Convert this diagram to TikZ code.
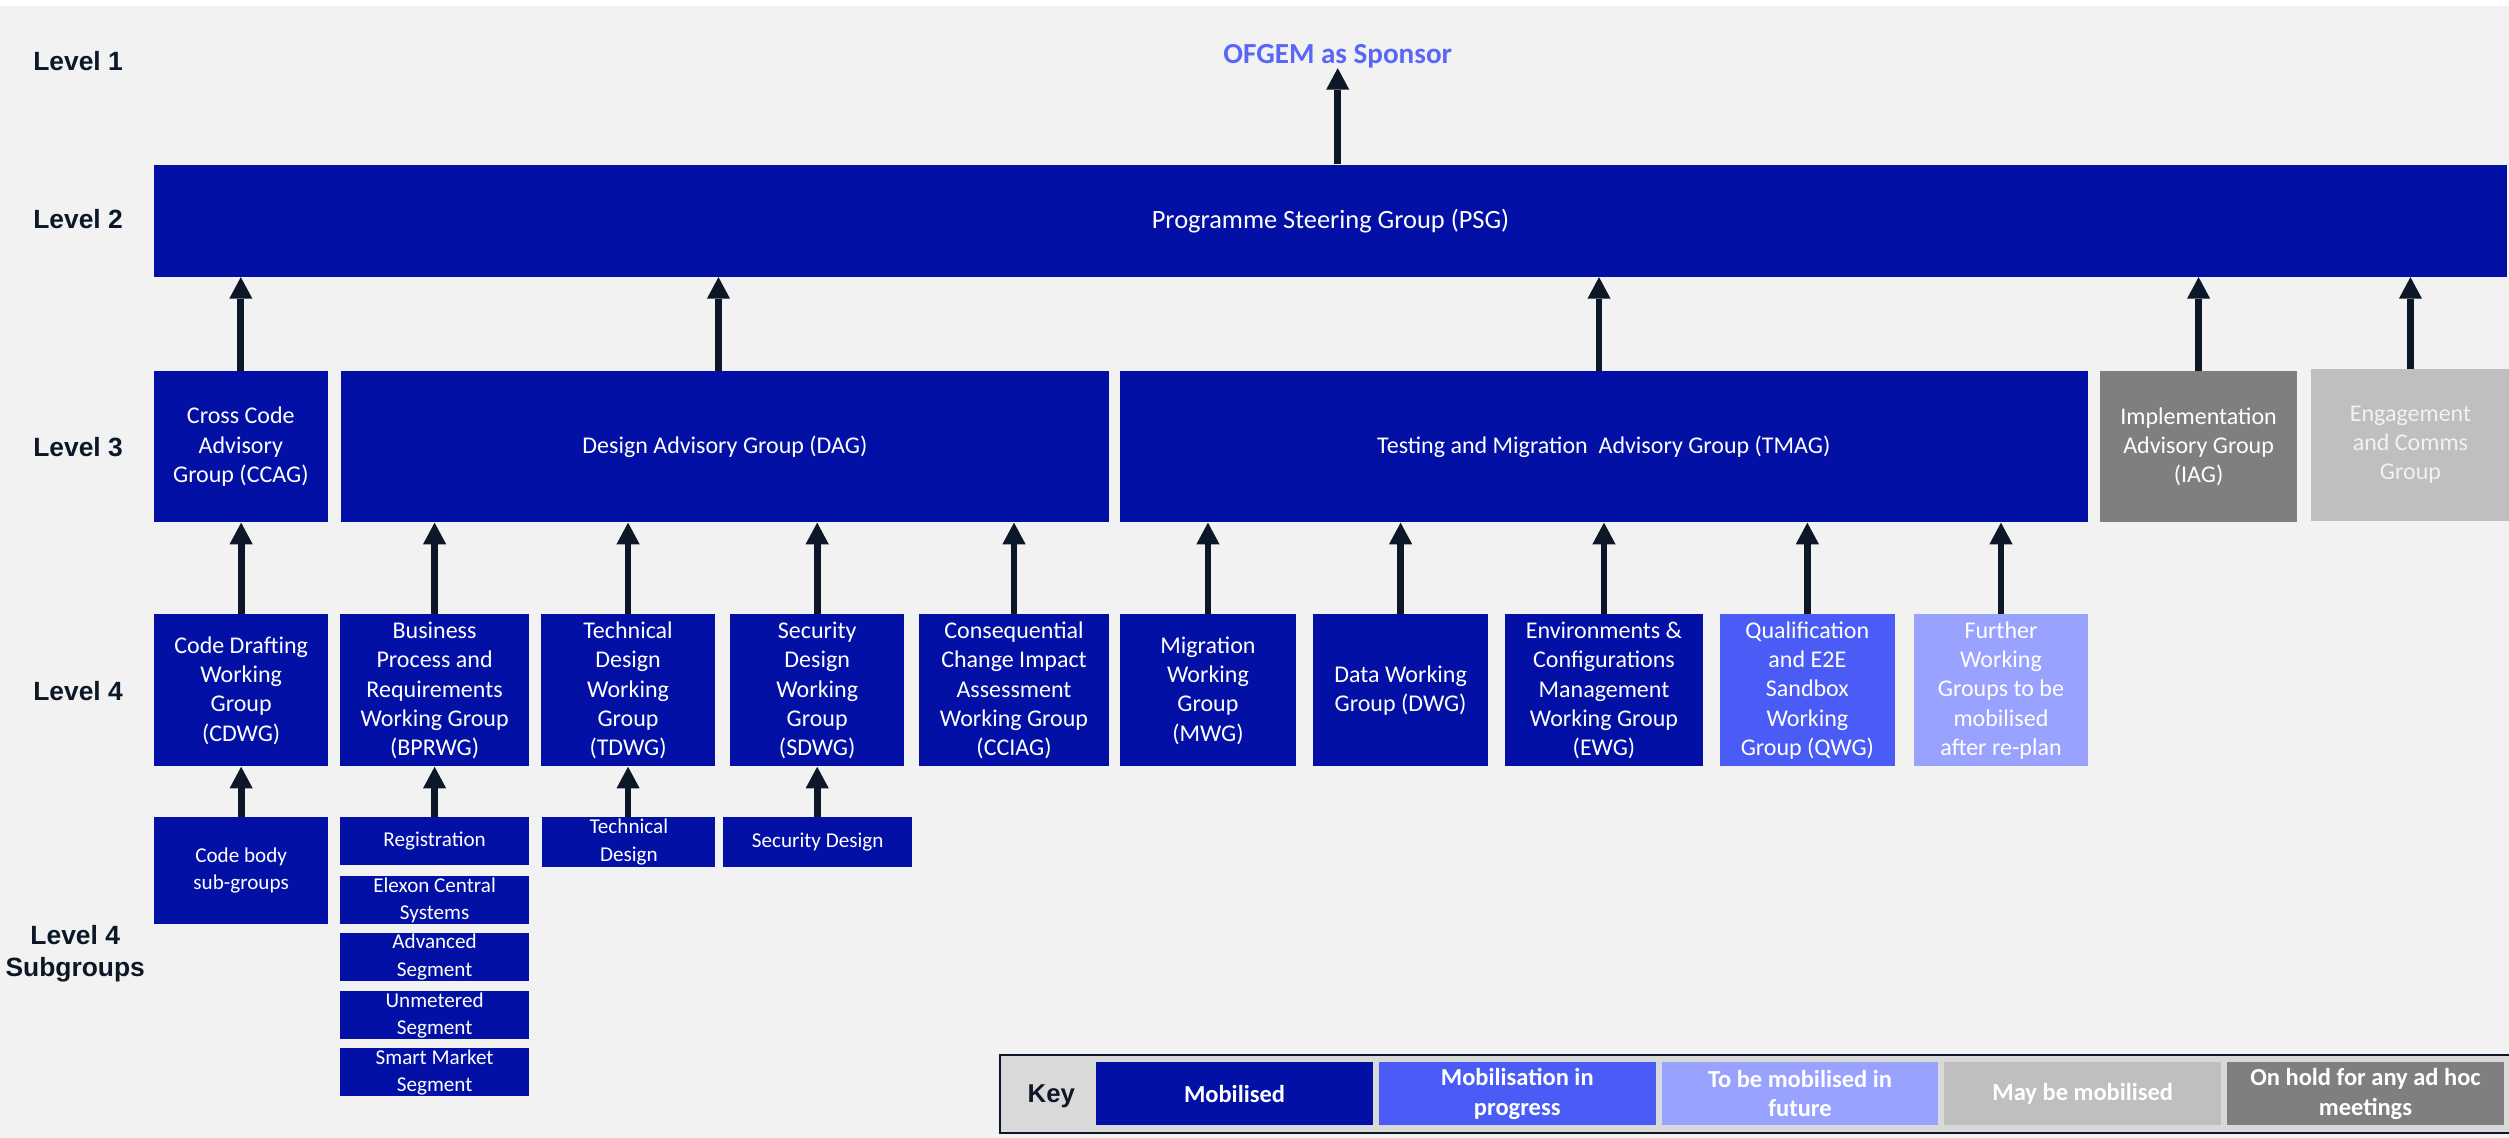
\documentclass[tikz,border=0pt]{standalone}
\usepackage{fontspec}
\setmainfont{Carlito}
\newfontfamily\lvlfont{Liberation Sans}
\usetikzlibrary{arrows.meta}

\definecolor{navy}{HTML}{0210A6}
\definecolor{midblue}{HTML}{4A5CF5}
\definecolor{paleblue}{HTML}{99A3FF}
\definecolor{darkgrey}{HTML}{7F7F7F}
\definecolor{lightgrey}{HTML}{BFBFBF}
\definecolor{ink}{HTML}{0C1828}
\definecolor{bggrey}{HTML}{F2F2F2}
\definecolor{keygrey}{HTML}{D9D9D9}
\definecolor{sponsorblue}{HTML}{5A66F6}

\begin{document}
\begin{tikzpicture}[x=1pt,y=-1pt,
  box/.style={fill=navy,text=white,inner sep=0pt,align=center,font=\fontsize{15}{18.3}\selectfont},
  sub/.style={box,font=\fontsize{13.2}{17}\selectfont},
  lvl/.style={text=ink,inner sep=0pt,align=center,font=\lvlfont\bfseries\fontsize{16.5}{20}\selectfont},
  keycell/.style={box,minimum width=173,minimum height=39,font=\bfseries\fontsize{15.3}{18.5}\selectfont},
  up/.style={draw=ink,line width=4.2pt,-{Triangle[length=13.5pt,width=14.5pt,line width=0pt]}}]
\useasboundingbox (0,0) rectangle (1568,711);
\fill[white] (0,0) rectangle (1568,711);
\fill[bggrey] (0,4) rectangle (1568,711);

% level labels
\node[lvl,anchor=west] (l1) at (20.6,38.4) {Level 1};
\node[lvl,anchor=west] (l2) at (20.6,136.6) {Level 2};
\node[lvl,anchor=west] (l3) at (20.6,279.5) {Level 3};
\node[lvl,anchor=west] (l4) at (20.6,432) {Level 4};
\node[lvl] (l4s) at (47,596) {Level 4\\Subgroups};

% level 1 and 2
\node[font=\bfseries\fontsize{18.2}{22}\selectfont,text=sponsorblue,inner sep=0pt,anchor=base] (ofgem) at (836,39.5) {OFGEM as Sponsor};
\node[box,font=\fontsize{16.5}{20}\selectfont,minimum width=1471,minimum height=70] (psg) at (831.5,138) {Programme Steering Group (PSG)};

% level 3
\node[box,minimum width=109,minimum height=94.5] (ccag) at (150.5,279.2) {Cross Code\\Advisory\\Group (CCAG)};
\node[box,minimum width=480,minimum height=94.5] (dag) at (453,279.2) {Design Advisory Group (DAG)};
\node[box,minimum width=604.6,minimum height=94.5] (tmag) at (1002.3,279.2) {Testing and Migration\ \ Advisory Group (TMAG)};
\node[box,fill=darkgrey,minimum width=123.6,minimum height=94.5] (iag) at (1374,279.2) {Implementation\\Advisory Group\\(IAG)};
\node[box,fill=lightgrey,text=bggrey,minimum width=124,minimum height=94.8] (eng) at (1506.4,278) {Engagement\\and Comms\\Group};

% level 4
\node[box,minimum width=108.5,minimum height=95] (cdwg) at (150.7,431.5) {Code Drafting\\Working\\Group\\(CDWG)};
\node[box,minimum width=118,minimum height=95] (bprwg) at (271.6,431.5) {Business\\Process and\\Requirements\\Working Group\\(BPRWG)};
\node[box,minimum width=109,minimum height=95] (tdwg) at (392.5,431.5) {Technical\\Design\\Working\\Group\\(TDWG)};
\node[box,minimum width=108.6,minimum height=95] (sdwg) at (510.7,431.5) {Security\\Design\\Working\\Group\\(SDWG)};
\node[box,minimum width=118.6,minimum height=95] (cciag) at (633.7,431.5) {Consequential\\Change Impact\\Assessment\\Working Group\\(CCIAG)};
\node[box,minimum width=109.7,minimum height=95] (mwg) at (754.9,431.5) {Migration\\Working\\Group\\(MWG)};
\node[box,minimum width=109.5,minimum height=95] (dwg) at (875.3,431.5) {Data Working\\Group (DWG)};
\node[box,minimum width=123.2,minimum height=95] (ewg) at (1002.4,431.5) {Environments \&\\Configurations\\Management\\Working Group\\(EWG)};
\node[box,fill=midblue,minimum width=109,minimum height=95] (qwg) at (1129.5,431.5) {Qualification\\and E2E\\Sandbox\\Working\\Group (QWG)};
\node[box,fill=paleblue,minimum width=109,minimum height=95] (further) at (1250.5,431.5) {Further\\Working\\Groups to be\\mobilised\\after re-plan};

% level 4 subgroups
\node[sub,minimum width=108.5,minimum height=66.7] (codebody) at (150.7,544) {Code body\\sub-groups};
\node[sub,minimum width=118,minimum height=29.7] (registration) at (271.6,525.5) {Registration};
\node[sub,minimum width=118,minimum height=30] (elexon) at (271.6,562.5) {Elexon Central\\Systems};
\node[sub,minimum width=118,minimum height=30] (advanced) at (271.6,598) {Advanced\\Segment};
\node[sub,minimum width=118,minimum height=30] (unmetered) at (271.6,634.4) {Unmetered\\Segment};
\node[sub,minimum width=118,minimum height=30] (smart) at (271.6,670) {Smart Market\\Segment};
\node[sub,minimum width=108,minimum height=31] (techdesign) at (393,526.2) {Technical\\Design};
\node[sub,minimum width=118,minimum height=31] (secdesign) at (511,526.2) {Security Design};

% arrows
\draw[up] (ofgem.south |- psg.north) -- (ofgem.south);
\coordinate (dagtop) at ([xshift=-4pt]dag.north);
\coordinate (tmagtop) at ([xshift=-3pt]tmag.north);
\foreach \a in {ccag.north, dagtop, tmagtop, iag.north, eng.north}
  \draw[up] (\a) -- (\a |- psg.south);
\foreach \a/\b in {cdwg/ccag, bprwg/dag, tdwg/dag, sdwg/dag, cciag/dag, mwg/tmag, dwg/tmag, ewg/tmag, qwg/tmag, further/tmag}
  \draw[up] (\a.north) -- (\a.north |- \b.south);
\foreach \a/\b in {codebody/cdwg, registration/bprwg, techdesign/tdwg, secdesign/sdwg}
  \draw[up] (\b.south |- \a.north) -- (\b.south);

% key
\node[draw=ink,line width=1.3pt,fill=keygrey,minimum width=955,minimum height=48.6,inner sep=0pt] (keyframe) at (1102.5,683.7) {};
\node[lvl,font=\lvlfont\bfseries\fontsize{16.1}{20}\selectfont] (keylbl) at (657,685) {Key};
\foreach \nm/\col/\txt [count=\i from 0] in {mob/navy/Mobilised, prog/midblue/{Mobilisation in\\progress}, fut/paleblue/{To be mobilised in\\future}, may/lightgrey/May be mobilised, hold/darkgrey/{On hold for any ad hoc\\meetings}}
  \node[keycell,fill=\col] (\nm) at (771.5+176.7*\i,683.5) {\txt};
\end{tikzpicture}
\end{document}
